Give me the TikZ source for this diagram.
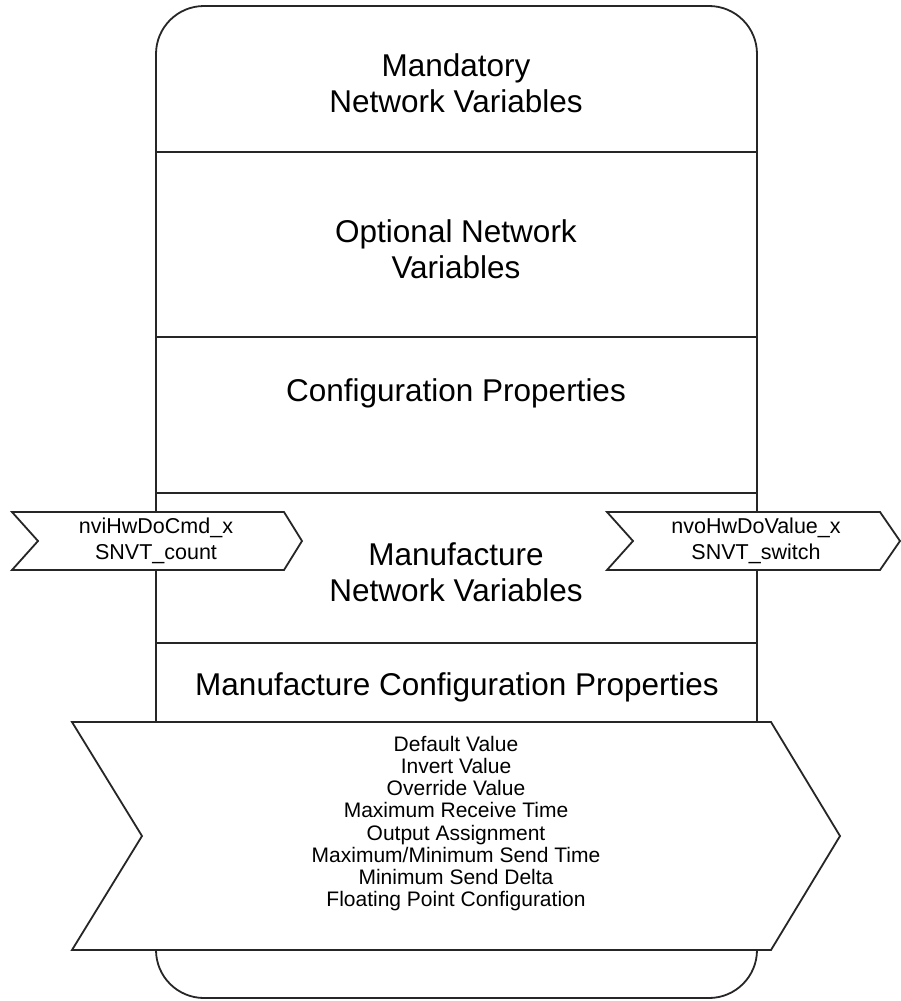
\documentclass[tikz,border=0pt]{standalone}
\usepackage{fontspec}
\setmainfont{Liberation Sans}
\begin{document}
\begin{tikzpicture}[x=1pt,y=-1pt,
  shapeline/.style={draw=black!85,line width=1.8pt,line join=miter},
  big/.style={align=center,font=\fontsize{31.5}{36}\selectfont},
  small/.style={align=center,font=\fontsize{21}{22.2}\selectfont},
  tag/.style={align=center,font=\fontsize{21.5}{26}\selectfont}]
\useasboundingbox[fill=white] (0,0) rectangle (901,1001);
% main rounded container
\draw[shapeline,fill=white,rounded corners=48pt] (156,6) rectangle (757,998);
% dividers
\draw[shapeline] (156,152) -- (757,152);
\draw[shapeline] (156,337) -- (757,337);
\draw[shapeline] (156,493) -- (757,493);
\draw[shapeline] (156,643) -- (757,643);
% side chevrons
\draw[shapeline,fill=white] (12,512) -- (284,512) -- (302,541) -- (284,570) -- (12,570) -- (38,541) -- cycle;
\draw[shapeline,fill=white] (607,512) -- (880,512) -- (900,541) -- (880,570) -- (607,570) -- (633,541) -- cycle;
% bottom chevron
\draw[shapeline,fill=white] (72,722) -- (771,722) -- (840,836) -- (771,950) -- (72,950) -- (142,836) -- cycle;
% texts
\node[big] (mand) at (456,83) {Mandatory\\Network Variables};
\node[big] (opt) at (456,249) {Optional Network\\Variables};
\node[big] (conf) at (456,393) {Configuration Properties};
\node[big] (mnv) at (456,572) {Manufacture\\Network Variables};
\node[big] (mcp) at (457,687) {Manufacture Configuration Properties};
\node[tag] (in) at (156,541) {nviHwDoCmd\_x\\SNVT\_count};
\node[tag] (out) at (756,541) {nvoHwDoValue\_x\\SNVT\_switch};
\node[small] (list) at (456,823.5) {Default Value\\Invert Value\\Override Value\\Maximum Receive Time\\Output Assignment\\Maximum/Minimum Send Time\\Minimum Send Delta\\Floating Point Configuration};
\end{tikzpicture}
\end{document}
